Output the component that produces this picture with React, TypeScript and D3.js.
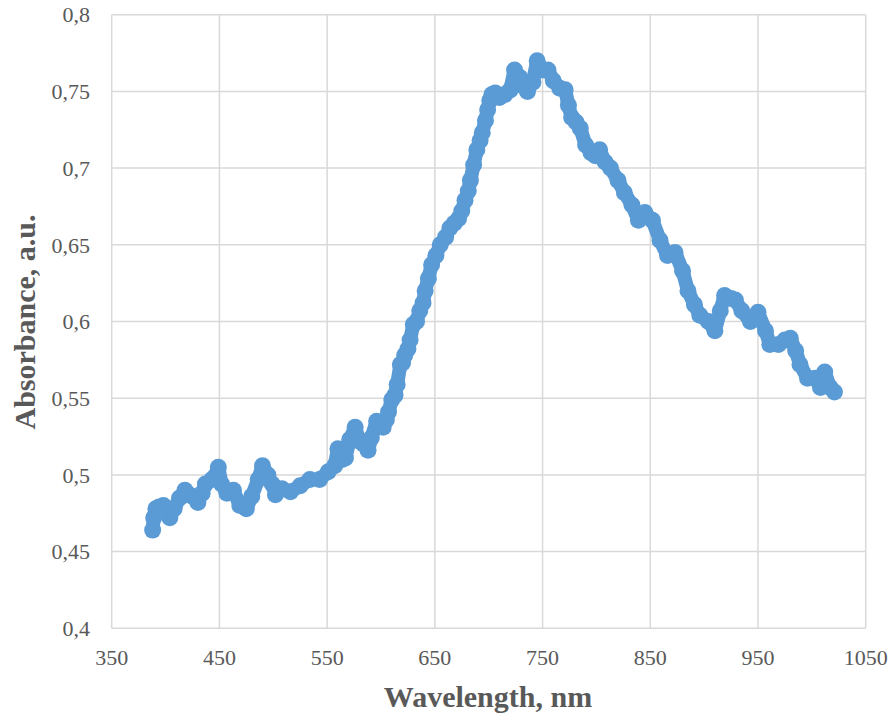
import React, { useEffect, useRef } from "react";
import * as d3 from "d3";

// readings taken off the spectrum (nm, a.u.)
const wavelength = [
  388, 389, 391, 394, 398, 401, 404, 408, 413, 418, 422, 425, 430, 434, 437, 443, 447, 449,
  452, 457, 463, 469, 475, 480, 486, 490, 495, 499, 502, 508, 516, 525, 534, 543, 551, 557,
  560, 564, 567, 571, 576, 580, 584, 588, 591, 596, 602, 605, 607, 610, 613, 615, 618, 620,
  622, 625, 627, 630, 633, 636, 639, 641, 644, 647, 651, 655, 660, 664, 668, 672, 675, 678,
  681, 683, 686, 689, 692, 694, 697, 699, 701, 703, 706, 710, 715, 720, 724, 729, 733, 736,
  741, 745, 750, 755, 760, 766, 771, 774, 777, 781, 785, 790, 795, 799, 803, 808, 813, 820,
  826, 833, 839, 845, 852, 859, 866, 873, 880, 885, 891, 896, 904, 910, 915, 919, 925, 929,
  935, 943, 950, 957, 961, 969, 975, 980, 985, 989, 996, 1003, 1008, 1012, 1017, 1021,
];
const absorbance = [
  0.464, 0.472, 0.478, 0.479, 0.48, 0.478, 0.472, 0.478, 0.485, 0.49, 0.487, 0.486, 0.482, 0.488,
  0.494, 0.497, 0.5, 0.505, 0.494, 0.488, 0.49, 0.48, 0.478, 0.486, 0.497, 0.506, 0.5, 0.494,
  0.487, 0.491, 0.489, 0.493, 0.497, 0.497, 0.502, 0.506, 0.517, 0.51, 0.511, 0.523, 0.531, 0.522,
  0.52, 0.516, 0.524, 0.535, 0.531, 0.536, 0.541, 0.549, 0.552, 0.559, 0.572, 0.573, 0.578, 0.582,
  0.588, 0.598, 0.6, 0.607, 0.612, 0.62, 0.628, 0.637, 0.643, 0.65, 0.655, 0.661, 0.664, 0.667,
  0.672, 0.679, 0.685, 0.692, 0.702, 0.712, 0.718, 0.723, 0.731, 0.738, 0.744, 0.748, 0.749, 0.746,
  0.748, 0.751, 0.764, 0.759, 0.753, 0.75, 0.756, 0.77, 0.764, 0.764, 0.757, 0.752, 0.751, 0.741,
  0.733, 0.73, 0.726, 0.715, 0.71, 0.708, 0.712, 0.704, 0.7, 0.692, 0.684, 0.676, 0.666, 0.671,
  0.666, 0.653, 0.643, 0.645, 0.633, 0.62, 0.611, 0.604, 0.6, 0.594, 0.607, 0.617, 0.615, 0.614,
  0.607, 0.6, 0.606, 0.594, 0.585, 0.585, 0.588, 0.589, 0.581, 0.572, 0.563, 0.563, 0.557, 0.567,
  0.557, 0.554,
];

const xTicks = [350, 450, 550, 650, 750, 850, 950, 1050];
const yTicks = [0.4, 0.45, 0.5, 0.55, 0.6, 0.65, 0.7, 0.75, 0.8];

export default function App() {
  const ref = useRef<SVGSVGElement>(null);

  useEffect(() => {
    const svg = d3.select(ref.current);
    svg.selectAll("*").remove();

    const width = 893, height = 714;
    const margin = { top: 14.7, right: 27.3, bottom: 85.7, left: 111.7 };
    const x = d3.scaleLinear().domain([350, 1050]).range([margin.left, width - margin.right]);
    const y = d3.scaleLinear().domain([0.4, 0.8]).range([height - margin.bottom, margin.top]);
    const font = "'Times New Roman', 'Liberation Serif', serif";

    const fmt = (v: number) => String(+v.toFixed(2)).replace(".", ",");

    const grid = svg.append("g");
    grid.selectAll(".vx").data(xTicks).join("line")
      .attr("x1", d => x(d)).attr("x2", d => x(d))
      .attr("y1", y(0.4)).attr("y2", y(0.8))
      .attr("stroke", "#d9d9d9").attr("stroke-width", 1.5);
    grid.selectAll(".hy").data(yTicks).join("line")
      .attr("y1", d => y(d)).attr("y2", d => y(d))
      .attr("x1", x(350)).attr("x2", x(1050))
      .attr("stroke", "#d9d9d9").attr("stroke-width", 1.5);

    svg.append("g").selectAll("text").data(yTicks).join("text")
      .attr("x", 90).attr("y", d => y(d)).attr("dy", "0.35em")
      .attr("text-anchor", "end").attr("fill", "#595959")
      .attr("font-family", font).attr("font-size", 22)
      .text(d => fmt(d));

    svg.append("g").selectAll("text").data(xTicks).join("text")
      .attr("x", d => x(d)).attr("y", 665)
      .attr("text-anchor", "middle").attr("fill", "#595959")
      .attr("font-family", font).attr("font-size", 22)
      .text(d => String(d));

    const pts = wavelength.map((w, i) => [w, absorbance[i]] as [number, number]);
    const line = d3.line<[number, number]>().x(d => x(d[0])).y(d => y(d[1]));
    svg.append("path").attr("d", line(pts))
      .attr("fill", "none").attr("stroke", "#5b9bd5").attr("stroke-width", 14)
      .attr("stroke-linejoin", "round").attr("stroke-linecap", "round");
    svg.append("g").selectAll("circle").data(pts).join("circle")
      .attr("cx", d => x(d[0])).attr("cy", d => y(d[1])).attr("r", 8.5)
      .attr("fill", "#5b9bd5");

    svg.append("text")
      .attr("x", 488).attr("y", 707).attr("text-anchor", "middle")
      .attr("fill", "#595959").attr("font-weight", "bold")
      .attr("font-family", font).attr("font-size", 30)
      .text("Wavelength, nm");

    svg.append("text")
      .attr("transform", "translate(35,322) rotate(-90)").attr("text-anchor", "middle")
      .attr("fill", "#595959").attr("font-weight", "bold")
      .attr("font-family", font).attr("font-size", 30)
      .text("Absorbance, a.u.");
  }, []);

  return (
    <svg ref={ref} width={893} height={714}
      style={{ position: "absolute", left: 0, top: 0, background: "white" }} />
  );
}
